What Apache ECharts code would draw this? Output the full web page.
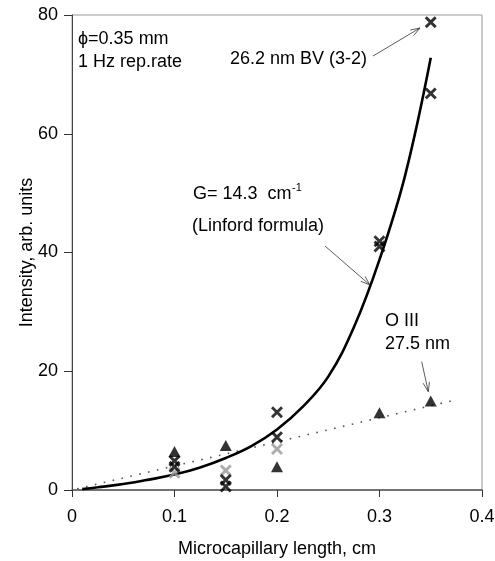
<!DOCTYPE html>
<html>
<head>
<meta charset="utf-8">
<script src="https://cdn.jsdelivr.net/npm/echarts@6/dist/echarts.min.js"></script>
<style>html,body{margin:0;padding:0;background:#fff}#c{width:495px;height:561px}</style>
</head>
<body>
<div id="c"></div>
<script>
// Linford-formula fit
const curveX = [0.01, 0.025, 0.05, 0.075, 0.1, 0.125, 0.15, 0.175, 0.2, 0.225, 0.25, 0.275, 0.3, 0.325, 0.35];
const curveY = [0.15, 0.45, 1.0, 1.75, 2.6, 3.8, 5.4, 7.4, 10.2, 14.0, 19.1, 27.4, 38.8, 53.0, 72.8];
// dotted trend line for O III
const trendX = [0.005, 0.37];
const trendY = [0.2, 15.0];
// 26.2 nm BV (3-2) data (black crosses)
const bvX = [0.1, 0.1, 0.15, 0.15, 0.2, 0.2, 0.3, 0.3, 0.35, 0.35];
const bvY = [4.9, 3.9, 1.7, 0.6, 13.1, 8.9, 41.9, 41.0, 78.8, 66.8];
// grey crosses
const greyX = [0.1, 0.15, 0.2];
const greyY = [2.9, 3.3, 6.9];
// O III 27.5 nm (triangles)
const o3X = [0.1, 0.15, 0.2, 0.3, 0.35];
const o3Y = [6.5, 7.5, 3.9, 13.0, 15.0];
// axes
const xTicks = [0, 0.1, 0.2, 0.3, 0.4];
const yTicks = [0, 20, 40, 60, 80];

const zip = (a, b) => a.map((v, i) => [v, b[i]]);
const FONT = '"Liberation Sans", Arial, sans-serif';
const CROSS = 'path://M0,1.7L1.7,0L5,3.3L8.3,0L10,1.7L6.7,5L10,8.3L8.3,10L5,6.7L1.7,10L0,8.3L3.3,5Z';

function arrow(x1, y1, x2, y2) {
  const a = Math.atan2(y2 - y1, x2 - x1);
  const L = 10, s = 0.33;
  const h1 = [x2 - L * Math.cos(a - s), y2 - L * Math.sin(a - s)];
  const h2 = [x2 - L * Math.cos(a + s), y2 - L * Math.sin(a + s)];
  return [
    { type: 'polyline', shape: { points: [[x1, y1], [x2, y2]] }, style: { stroke: '#333', lineWidth: 0.8, fill: null }, z: 10 },
    { type: 'polyline', shape: { points: [h1, [x2, y2], h2] }, style: { stroke: '#333', lineWidth: 0.8, fill: null }, z: 10 }
  ];
}
function txt(t, x, y, size) {
  return { type: 'text', x: x, y: y, z: 10,
    style: { text: t, font: (size || 18) + 'px ' + FONT, fill: '#000', align: 'left', verticalAlign: 'middle' } };
}

const chart = echarts.init(document.getElementById('c'), null, { renderer: 'canvas' });
chart.setOption({
  animation: false,
  backgroundColor: '#fff',
  grid: { left: 72, right: 13, top: 15, bottom: 71, show: true, borderColor: '#999', borderWidth: 1,
    containLabel: false, outerBoundsMode: 'none' },
  xAxis: {
    type: 'value', min: xTicks[0], max: xTicks[xTicks.length - 1], interval: 0.1,
    name: 'Microcapillary length, cm', nameLocation: 'middle', nameGap: 50, nameMoveOverlap: false,
    nameTextStyle: { fontFamily: FONT, fontSize: 18, color: '#000' },
    axisLine: { show: true, lineStyle: { color: '#555', width: 1.5 } },
    axisTick: { show: true, inside: false, length: 7, lineStyle: { color: '#333' } },
    axisLabel: { fontFamily: FONT, fontSize: 18, color: '#000', margin: 18,
      formatter: v => (Math.round(v * 10) / 10).toString() },
    splitLine: { show: false }
  },
  yAxis: {
    type: 'value', min: yTicks[0], max: yTicks[yTicks.length - 1], interval: 20,
    name: 'Intensity, arb. units', nameLocation: 'middle', nameGap: 36, nameRotate: 90, nameMoveOverlap: false,
    nameTextStyle: { fontFamily: FONT, fontSize: 18, color: '#000' },
    axisLine: { show: true, lineStyle: { color: '#444', width: 1 } },
    axisTick: { show: true, inside: false, length: 8, lineStyle: { color: '#333' } },
    axisLabel: { fontFamily: FONT, fontSize: 18, color: '#000', margin: 14 },
    splitLine: { show: false }
  },
  series: [
    { type: 'line', data: zip(trendX, trendY), showSymbol: false, symbol: 'none',
      lineStyle: { color: '#555', width: 1.6, type: [1.6, 7.5] }, z: 2 },
    { type: 'line', data: zip(curveX, curveY), showSymbol: false, symbol: 'none', smooth: 0.4,
      lineStyle: { color: '#000', width: 2.6 }, z: 3 },
    { type: 'scatter', data: zip(o3X, o3Y), symbol: 'triangle', symbolSize: [12, 11],
      itemStyle: { color: '#000' }, z: 4 },
    { type: 'scatter', data: zip(greyX, greyY), symbol: CROSS, symbolSize: 12,
      itemStyle: { color: '#999' }, z: 5 },
    { type: 'scatter', data: zip(bvX, bvY), symbol: CROSS, symbolSize: 12,
      itemStyle: { color: '#000' }, z: 6 }
  ],
  graphic: [
    txt('\u03d5=0.35 mm', 78, 39),
    txt('1 Hz rep.rate', 78, 62),
    txt('26.2 nm BV (3-2)', 230, 59),
    txt('G= 14.3  cm', 193, 194),
    txt('-1', 292, 188, 11),
    txt('(Linford formula)', 192, 226),
    txt('O III', 385, 321),
    txt('27.5 nm', 385, 344)
  ].concat(arrow(373, 56, 420, 28), arrow(325, 246, 370, 285), arrow(421.7, 361.7, 428.3, 391.7))
});
</script>
</body>
</html>
